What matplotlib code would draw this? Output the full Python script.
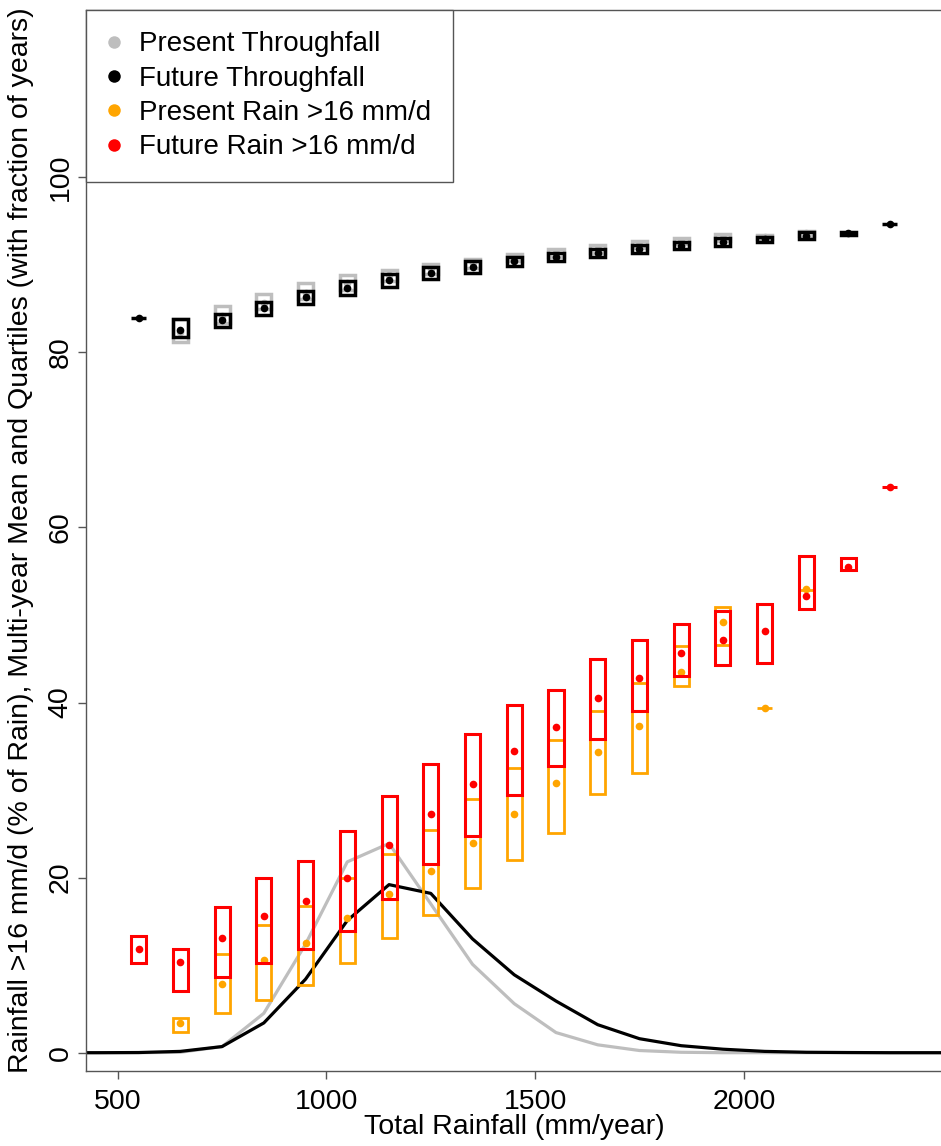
import numpy as np
import matplotlib
matplotlib.use("Agg")
import matplotlib.pyplot as plt
from matplotlib.lines import Line2D

plt.rcParams['font.family'] = ['Liberation Sans', 'DejaVu Sans']

# bin centres of total rainfall (mm/year)
bins = np.array([550, 650, 750, 850, 950, 1050, 1150, 1250, 1350, 1450,
                 1550, 1650, 1750, 1850, 1950, 2050, 2150, 2250, 2350])

# throughfall (% of rain): quartiles and mean
fut_tf_q75 = [83.9, 83.8, 84.4, 85.8, 87.0, 88.2, 89.0, 89.75, 90.4, 90.9,
              91.35, 91.8, 92.25, 92.6, 93.05, 93.2, 93.7, 93.8, 94.67]
fut_tf_q25 = [83.9, 81.7, 82.9, 84.3, 85.5, 86.5, 87.5, 88.35, 89.1, 89.85,
              90.45, 90.9, 91.35, 91.85, 92.2, 92.6, 92.9, 93.4, 94.67]
fut_tf_mean = [83.9, 82.6, 83.7, 85.1, 86.3, 87.4, 88.3, 89.1, 89.75, 90.4,
               90.9, 91.35, 91.8, 92.2, 92.65, 92.9, 93.3, 93.65, 94.67]
pres_tf_q75 = [np.nan, 83.8, 85.3, 86.7, 87.9, 88.8, 89.45, 90.15, 90.7, 91.25,
               91.8, 92.3, 92.7, 93.05, 93.55, 93.45, 93.85, np.nan, np.nan]
pres_tf_q25 = [np.nan, 81.2, 83.4, 84.9, 86.1, 87.1, 88.1, 88.9, 89.6, 90.4,
               90.9, 91.4, 91.9, 92.4, 92.7, 92.9, 93.3, np.nan, np.nan]
pres_tf_mean = [np.nan, 82.3, 84.2, 85.6, 86.8, 87.9, 88.8, 89.5, 90.2, 90.8,
                91.35, 91.8, 92.3, 92.7, 93.1, 93.2, 93.6, np.nan, np.nan]

# rain on days >16 mm/d (% of rain): quartiles and mean
pres_rain_q75 = [np.nan, 4.0, 11.3, 14.6, 16.8, 20.0, 22.7, 25.4, 29.0, 32.5,
                 35.7, 39.0, 42.2, 46.5, 50.9, 39.4, 52.9, np.nan, np.nan]
pres_rain_q25 = [np.nan, 2.4, 4.5, 6.0, 7.7, 10.2, 13.1, 15.7, 18.8, 22.0,
                 25.1, 29.5, 32.0, 41.9, 46.6, 39.4, 52.9, np.nan, np.nan]
pres_rain_mean = [np.nan, 3.35, 7.8, 10.6, 12.5, 15.4, 18.1, 20.8, 24.0, 27.3,
                  30.8, 34.3, 37.3, 43.5, 49.2, 39.4, 53.0, np.nan, np.nan]
fut_rain_q75 = [13.3, 11.8, 16.7, 20.0, 21.9, 25.3, 29.3, 33.0, 36.4, 39.7,
                41.4, 45.0, 47.1, 49.0, 50.4, 51.2, 56.7, 56.5, 64.6]
fut_rain_q25 = [10.2, 7.1, 8.6, 10.3, 11.8, 13.9, 17.6, 21.6, 24.8, 29.4,
                32.7, 35.8, 39.0, 43.0, 44.3, 44.5, 50.7, 55.1, 64.6]
fut_rain_mean = [11.8, 10.4, 13.1, 15.6, 17.3, 19.9, 23.7, 27.3, 30.7, 34.5,
                 37.2, 40.5, 42.8, 45.7, 47.1, 48.2, 52.2, 55.5, 64.6]

# fraction of years falling in each rainfall bin (%)
freq_x = [350, 450, 550, 650, 750, 850, 950, 1050, 1150, 1250, 1350, 1450,
          1550, 1650, 1750, 1850, 1950, 2050, 2150, 2250, 2350, 2450, 2550]
pres_freq = [0, 0, 0, 0.05, 0.7, 4.5, 12.4, 21.8, 23.9, 17.0, 10.1, 5.6,
             2.3, 0.9, 0.25, 0.05, 0, 0, 0, 0, 0, 0, 0]
fut_freq = [0, 0, 0.02, 0.15, 0.7, 3.4, 8.4, 15.1, 19.2, 18.2, 13.0, 8.9,
            5.9, 3.2, 1.6, 0.8, 0.4, 0.15, 0.05, 0.02, 0, 0, 0]

GREY = '#bebebe'
ORANGE = '#ffa500'
RED = '#ff0000'
AXCOL = '#555555'
FS = 20.5


def draw_boxes(ax, q25, q75, mean, color, lw, z):
    q25 = np.asarray(q25, float)
    q75 = np.asarray(q75, float)
    mean = np.asarray(mean, float)
    ok = ~np.isnan(q25)
    ax.bar(bins[ok], q75[ok] - q25[ok], bottom=q25[ok], width=36,
           fill=False, edgecolor=color, linewidth=lw, zorder=z)
    ax.plot(bins[ok], mean[ok], 'o', color=color, markersize=5.5,
            markeredgewidth=0, zorder=z + 0.5)


fig = plt.figure(figsize=(9.41, 11.46), dpi=100)
ax = fig.add_axes([86 / 941, 75 / 1146, 856.5 / 941, 1061 / 1146])

ax.plot(freq_x, pres_freq, color=GREY, linewidth=2.3, zorder=1)
ax.plot(freq_x, fut_freq, color='black', linewidth=2.3, zorder=2)

draw_boxes(ax, pres_tf_q25, pres_tf_q75, pres_tf_mean, GREY, 2.5, 3)
draw_boxes(ax, fut_tf_q25, fut_tf_q75, fut_tf_mean, 'black', 2.5, 4)
draw_boxes(ax, pres_rain_q25, pres_rain_q75, pres_rain_mean, ORANGE, 2.0, 5)
draw_boxes(ax, fut_rain_q25, fut_rain_q75, fut_rain_mean, RED, 2.2, 6)

ax.set_xlim(424, 2476)
ax.set_ylim(-2.09, 119.11)
ax.set_xticks([500, 1000, 1500, 2000])
ax.set_yticks([0, 20, 40, 60, 80, 100])
ax.tick_params(direction='out', length=6, width=1.0, color=AXCOL,
               labelsize=FS, pad=7)
ax.tick_params(axis='y', labelrotation=90, pad=3)
for lab in ax.get_yticklabels():
    lab.set_va('center')
for sp in ax.spines.values():
    sp.set_color(AXCOL)
    sp.set_linewidth(1.0)

ax.set_xlabel('Total Rainfall (mm/year)', fontsize=FS)
ax.xaxis.set_label_coords(0.5, -0.0405)
ax.xaxis.label.set_va('top')
ax.set_ylabel('Rainfall >16 mm/d (% of Rain), Multi-year Mean and Quartiles '
              '(with fraction of years)', fontsize=FS)
ax.yaxis.set_label_coords(-0.0607, 0.5)

names = ['Present Throughfall', 'Future Throughfall',
         'Present Rain >16 mm/d', 'Future Rain >16 mm/d']
cols = [GREY, 'black', ORANGE, RED]
handles = [Line2D([], [], linestyle='none', marker='o', markersize=9,
                  markeredgewidth=0, color=c) for c in cols]
leg = ax.legend(handles, names, loc='upper left', fontsize=20,
                borderaxespad=0, borderpad=0.77, labelspacing=0.3,
                handlelength=0.5, handletextpad=0.65, fancybox=False,
                framealpha=1, edgecolor=AXCOL)
leg.get_frame().set_linewidth(1.0)
leg.set_zorder(10)

fig.savefig('out.png', dpi=100)
